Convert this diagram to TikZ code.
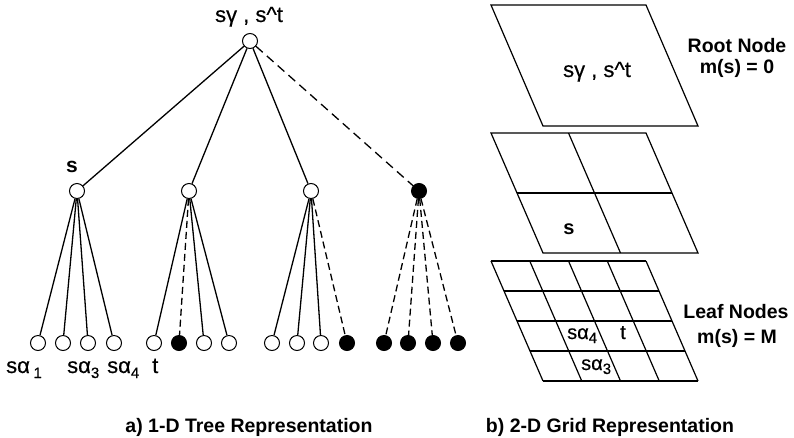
\documentclass[tikz,border=0pt]{standalone}
\usepackage{fontspec}
\setmainfont{Liberation Sans}
\newfontfamily\labelfont{Liberation Sans}[FakeBold=0.4]
\newcommand\subidx[2]{\raisebox{-#2}{\fontsize{15}{17}\selectfont #1}}
\begin{document}
\begin{tikzpicture}[x=1pt,y=-1pt,
  vtx/.style={circle,draw,line width=1pt,fill=white,inner sep=0pt,minimum size=15pt},
  full/.style={vtx,fill=black},
  edge/.style={line width=1.3pt},
  hidden/.style={edge,dash pattern=on 7pt off 4pt},
  hiddenlong/.style={edge,dash pattern=on 9pt off 5.5pt},
  treelbl/.style={inner sep=0pt,font=\labelfont\fontsize{22}{26}\selectfont},
  gridlbl/.style={inner sep=0pt,font=\labelfont\fontsize{20}{24}\selectfont},
  boldlbl/.style={inner sep=0pt,anchor=base,font=\bfseries\fontsize{19.5}{23}\selectfont},
  gline/.style={line width=1.2pt},
  gthick/.style={line width=2pt}
]
\useasboundingbox (0,0) rectangle (794,437);

% ---------------- tree ----------------
\node[vtx] (root) at (250,41) {};
\node[vtx] (a) at (77,191) {};
\node[vtx] (b) at (189,191) {};
\node[vtx] (c) at (311,191) {};
\node[full] (d) at (419,191) {};

\node[vtx]  (a1) at (38,343) {};
\node[vtx]  (a2) at (63,343) {};
\node[vtx]  (a3) at (88,343) {};
\node[vtx]  (a4) at (114,343) {};
\node[vtx]  (b1) at (154,343) {};
\node[full] (b2) at (179,343) {};
\node[vtx]  (b3) at (204,343) {};
\node[vtx]  (b4) at (229,343) {};
\node[vtx]  (c1) at (272,343) {};
\node[vtx]  (c2) at (297,343) {};
\node[vtx]  (c3) at (321,343) {};
\node[full] (c4) at (347,343) {};
\node[full] (d1) at (384,343) {};
\node[full] (d2) at (408,343) {};
\node[full] (d3) at (433,343) {};
\node[full] (d4) at (458,343) {};

\draw[edge] (root) -- (a);
\draw[edge] (root) -- (b);
\draw[edge] (root) -- (c);
\draw[hiddenlong] (root) -- (d);

\foreach \k in {1,2,3,4} \draw[edge] (a) -- (a\k);
\foreach \k in {1,3,4} \draw[edge] (b) -- (b\k);
\draw[hidden] (b) -- (b2);
\foreach \k in {1,2,3} \draw[edge] (c) -- (c\k);
\draw[hidden] (c) -- (c4);
\foreach \k in {1,2,3,4} \draw[hidden] (d) -- (d\k);

\node[treelbl,anchor=base] (rootlbl) at (249,22) {sγ , s\textasciicircum t};
\node[treelbl,anchor=base,font=\bfseries\fontsize{21}{25}\selectfont] (slbl) at (72,172) {s};
\node[treelbl,anchor=base west] (la1) at (6,373) {sα\,\subidx{1}{5pt}};
\node[treelbl,anchor=base west] (la3) at (67,373) {sα\subidx{3}{5pt}};
\node[treelbl,anchor=base west] (la4) at (107,373) {sα\subidx{4}{5pt}};
\node[treelbl,anchor=base west] (lt) at (152,373) {t};

% ---------------- grids ----------------
% top level: one cell
\draw[gline] (491,5) -- (646,5) -- (698,126) -- (543,126) -- cycle;
\node[gridlbl,anchor=base,font=\labelfont\fontsize{22}{26}\selectfont] (g0) at (597,77) {sγ , s\textasciicircum t};

% middle level: 2 x 2 cells
\draw[gline] (491,133) -- (646,133) -- (698,253) -- (543,253) -- cycle;
\draw[gline] (517,193) -- (672,193);
\draw[gline] (568.5,133) -- (620.5,253);
\node[gridlbl,anchor=base,font=\bfseries\fontsize{20}{24}\selectfont] (g1) at (569,234) {s};

% bottom level: 4 x 4 cells
\foreach \k in {0,1,4}
  \draw[gline] ({491+13*\k},{261+30*\k}) -- ({646+13*\k},{261+30*\k});
\foreach \k in {2,3}
  \draw[gthick] ({491+13*\k},{261+30*\k}) -- ({646+13*\k},{261+30*\k});
\foreach \k in {0,...,4}
  \draw[gline] ({491+38.75*\k},261) -- ({543+38.75*\k},381);
\node[gridlbl,anchor=base west] (g4) at (567,339) {sα\subidx{4}{4pt}};
\node[gridlbl,anchor=base] (gt) at (623,339) {t};
\node[gridlbl,anchor=base west] (g3) at (581,370) {sα\subidx{3}{4pt}};

% ---------------- side labels and captions ----------------
\node[boldlbl] (rn) at (737,52) {Root Node};
\node[boldlbl] (rm) at (737,73) {m(s) = 0};
\node[boldlbl] (ln) at (736,318) {Leaf Nodes};
\node[boldlbl] (lm) at (737,343) {m(s) = M};

\node[boldlbl] (capa) at (249,432) {a) 1-D Tree Representation};
\node[boldlbl] (capb) at (610,432) {b) 2-D Grid Representation};
\end{tikzpicture}
\end{document}
